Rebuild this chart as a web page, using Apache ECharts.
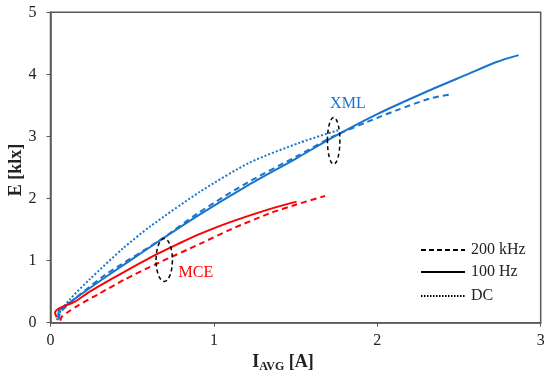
<!DOCTYPE html>
<html><head><meta charset="utf-8">
<script src="https://cdn.jsdelivr.net/npm/echarts@6/dist/echarts.min.js"></script>
<style>html,body{margin:0;padding:0;background:#fff}#c{width:550px;height:380px}</style>
</head><body><div id="c"></div>
<script>
// XML (blue) curves
const xml200k = [[0.05,0.05],[0.06,0.16],[0.1,0.27],[0.15,0.39],[0.34,0.78],[0.67,1.33],[0.9,1.76],[1.2,2.25],[1.5,2.67],[1.73,3.0],[2.0,3.3],[2.117,3.42],[2.32,3.61],[2.454,3.68]];
const xml100 = [[0.048,0.075],[0.05,0.18],[0.09,0.27],[0.14,0.37],[0.34,0.74],[0.61,1.22],[0.9,1.72],[1.2,2.2],[1.5,2.64],[1.73,2.99],[2.0,3.36],[2.3,3.72],[2.55,4.0],[2.73,4.2],[2.865,4.31]];
const xmlDC = [[0.04,0.04],[0.06,0.18],[0.12,0.38],[0.24,0.7],[0.445,1.2],[0.61,1.55],[0.915,2.11],[1.22,2.58],[1.526,2.9],[1.76,3.1]];
// MCE (red) curves
const mce200k = [[0.06,0.03],[0.07,0.10],[0.1,0.16],[0.17,0.28],[0.3,0.47],[0.45,0.69],[0.65,0.95],[0.915,1.27],[1.1,1.5],[1.34,1.76],[1.5,1.9],[1.68,2.04]];
const mce100 = [[0.038,0.087],[0.028,0.16],[0.058,0.237],[0.15,0.34],[0.24,0.5],[0.364,0.69],[0.61,1.05],[0.79,1.28],[0.915,1.43],[1.1,1.62],[1.34,1.83],[1.506,1.95]];
// annotations
const labels = [{t:'XML',x:1.82,y:3.53,c:'#1874CD'},{t:'MCE',x:0.89,y:0.8,c:'#FF0000'}];
const ellipses = [{x:1.733,y:2.93,rx:0.038,ry:0.375},{x:0.696,y:1.01,rx:0.05,ry:0.345}];
const legendItems = [{name:'200 kHz',type:[5,3]},{name:'100 Hz',type:'solid'},{name:'DC',type:[1.5,1.5]}];
const xTicks=[0,1,2,3], yTicks=[0,1,2,3,4,5];

const BLUE='#1874CD', RED='#FF0000', FONT='Liberation Serif';
const chart = echarts.init(document.getElementById('c'));
function ser(data,color,type){return {type:'line',data:data,showSymbol:false,symbol:'none',smooth:0.25,lineStyle:{color:color,width:2,type:type},animation:false};}
const axisCommon={axisLine:{show:true,lineStyle:{color:'#595959',width:1.5}},axisTick:{show:true,inside:false,length:4,lineStyle:{color:'#595959'}},splitLine:{show:false}};
chart.setOption({
  animation:false,
  grid:{left:50.5,right:9.3,top:12.3,bottom:57.3,show:true,borderColor:'#595959',borderWidth:1.5},
  xAxis:Object.assign({type:'value',min:0,max:3,interval:1},axisCommon,{axisLabel:{fontFamily:FONT,fontSize:16,color:'#222',margin:10}}),
  yAxis:Object.assign({type:'value',min:0,max:5,interval:1},axisCommon,{axisLabel:{fontFamily:FONT,fontSize:16,color:'#222',margin:14}}),
  series:[ser(xml200k,BLUE,[6,4]),ser(xml100,BLUE,'solid'),ser(xmlDC,BLUE,[2,2]),ser(mce200k,RED,[6,4]),ser(mce100,RED,'solid')]
});
function draw(){
  const g=[];
  ellipses.forEach(e=>{
    const c=chart.convertToPixel({gridIndex:0},[e.x,e.y]);
    const r=chart.convertToPixel({gridIndex:0},[e.x+e.rx,e.y+e.ry]);
    g.push({type:'ellipse',shape:{cx:c[0],cy:c[1],rx:r[0]-c[0],ry:c[1]-r[1]},style:{fill:'none',stroke:'#000',lineWidth:1.5,lineDash:[4,3]},z:10});
  });
  labels.forEach(l=>{
    const p=chart.convertToPixel({gridIndex:0},[l.x,l.y]);
    g.push({type:'text',x:p[0],y:p[1],style:{text:l.t,fill:l.c,font:'16px '+FONT,align:'center',verticalAlign:'middle'},z:10});
  });
  legendItems.forEach((it,i)=>{
    const y=[250,272,296][i];
    g.push({type:'line',shape:{x1:421,y1:y,x2:465,y2:y},style:{stroke:'#000',lineWidth:2,lineDash:it.type==='solid'?null:it.type},z:10});
    g.push({type:'text',x:471,y:y,style:{text:it.name,fill:'#222',font:'16px '+FONT,verticalAlign:'middle'},z:10});
  });
  g.push({type:'text',x:283,y:362,style:{text:'{b|I}{s|AVG}{b| [A]}',align:'center',verticalAlign:'middle',rich:{b:{fontFamily:FONT,fontSize:18,fontWeight:'bold',fill:'#222',verticalAlign:'middle'},s:{fontFamily:FONT,fontSize:12,fontWeight:'bold',fill:'#222',padding:[10,0,0,0]}}},z:10});
  g.push({type:'text',x:16,y:170,rotation:Math.PI/2,style:{text:'E [klx]',fill:'#222',font:'bold 18px '+FONT,align:'center',verticalAlign:'middle'},z:10});
  chart.setOption({graphic:g});
}
draw();
</script></body></html>
